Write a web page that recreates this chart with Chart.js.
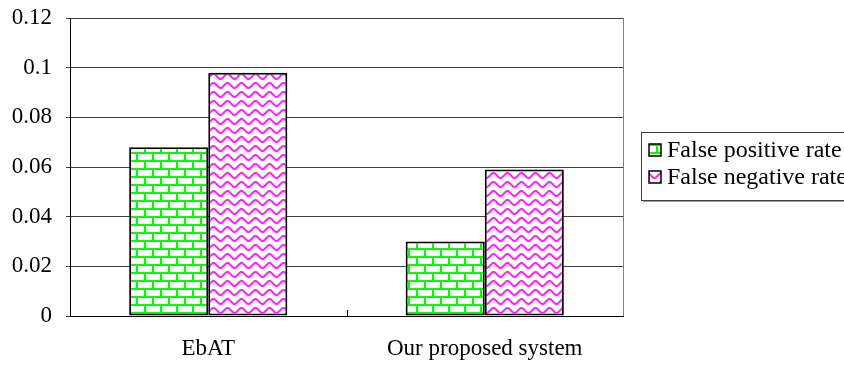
<!DOCTYPE html>
<html>
<head>
<meta charset="utf-8">
<script src="https://cdn.jsdelivr.net/npm/chart.js@4/dist/chart.umd.min.js"></script>
<style>
  html, body { margin: 0; padding: 0; background: #fff; }
  #wrap { width: 844px; height: 365px; position: relative; }
</style>
</head>
<body>
<div id="wrap"><canvas id="c" width="844" height="365"></canvas></div>
<script>
// Detection error rates of the two systems
const categories = ['EbAT', 'Our proposed system'];
const falsePositive = [0.068, 0.030];
const falseNegative = [0.098, 0.059];
const seriesNames = ['False positive rate', 'False negative rate'];
const yTicks = [0, 0.02, 0.04, 0.06, 0.08, 0.1, 0.12];

const FONT = "'Liberation Serif', 'Times New Roman', serif";

// Green brick hatch
function brickPattern() {
  const t = document.createElement('canvas');
  t.width = 16; t.height = 16;
  const g = t.getContext('2d');
  g.fillStyle = '#ffffff';
  g.fillRect(0, 0, 16, 16);
  g.fillStyle = '#00ff00';
  g.fillRect(0, 0, 16, 2);
  g.fillRect(0, 8, 16, 2);
  g.fillRect(0, 0, 2, 8);
  g.fillRect(8, 8, 2, 8);
  return g.createPattern(t, 'repeat');
}

// Magenta wave hatch
function wavePattern() {
  const w = 14, h = 9;
  const t = document.createElement('canvas');
  t.width = w; t.height = h;
  const g = t.getContext('2d');
  g.fillStyle = '#ffffff';
  g.fillRect(0, 0, w, h);
  g.strokeStyle = '#ff22ff';
  g.lineWidth = 2;
  for (const off of [-h, 0, h]) {
    g.beginPath();
    for (let x = -1; x <= w + 1; x += 0.5) {
      const y = off + 4.5 - 2.5 * Math.sin((x / w) * Math.PI * 2);
      if (x === -1) g.moveTo(x, y); else g.lineTo(x, y);
    }
    g.stroke();
  }
  return g.createPattern(t, 'repeat');
}

const fills = [brickPattern(), wavePattern()];

// Plot frame, inward category ticks and the boxed legend
const framePlugin = {
  id: 'frame',
  afterDatasetsDraw(chart) {
    const { ctx, chartArea: a, scales } = chart;
    ctx.save();
    ctx.strokeStyle = '#808080';
    ctx.lineWidth = 1;
    ctx.beginPath();
    ctx.moveTo(a.right + 0.5, a.top);
    ctx.lineTo(a.right + 0.5, a.bottom);
    ctx.stroke();
    // tick between categories
    const xs = scales.x;
    ctx.strokeStyle = '#000';
    for (let i = 1; i < categories.length; i++) {
      const px = Math.round((xs.getPixelForValue(i - 1) + xs.getPixelForValue(i)) / 2) + 0.5;
      ctx.beginPath();
      ctx.moveTo(px, a.bottom);
      ctx.lineTo(px, a.bottom - 6);
      ctx.stroke();
    }
    ctx.restore();
  },
  afterDraw(chart) {
    const { ctx } = chart;
    const lx = 641, ly = 132, lh = 68;
    ctx.save();
    ctx.fillStyle = '#a0a0a0';
    ctx.fillRect(lx + 2, ly + lh, 300, 2);
    ctx.fillStyle = '#fff';
    ctx.fillRect(lx, ly, 300, lh);
    ctx.strokeStyle = '#404040';
    ctx.lineWidth = 1;
    ctx.strokeRect(lx + 0.5, ly + 0.5, 300, lh);
    ctx.font = '24px ' + FONT;
    ctx.textBaseline = 'middle';
    ctx.fillStyle = '#000';
    chart.data.datasets.forEach((ds, i) => {
      const cy = 150 + i * 27;
      ctx.fillStyle = ds.backgroundColor;
      ctx.fillRect(649, cy - 6, 12, 12);
      ctx.strokeStyle = '#000';
      ctx.lineWidth = 1.5;
      ctx.strokeRect(649, cy - 6, 12, 12);
      ctx.fillStyle = '#000';
      ctx.fillText(ds.label, 667, cy + 1);
    });
    ctx.restore();
  }
};

new Chart(document.getElementById('c'), {
  type: 'bar',
  data: {
    labels: categories,
    datasets: [
      { label: seriesNames[0], data: falsePositive, backgroundColor: fills[0],
        borderColor: '#000', borderWidth: 2, borderSkipped: false },
      { label: seriesNames[1], data: falseNegative, backgroundColor: fills[1],
        borderColor: '#000', borderWidth: 2, borderSkipped: false }
    ]
  },
  options: {
    responsive: false,
    animation: false,
    devicePixelRatio: 1,
    layout: { padding: { top: 18, right: 221, left: 0, bottom: 0 } },
    datasets: { bar: { barPercentage: 1.0, categoryPercentage: 0.572 } },
    plugins: { legend: { display: false }, tooltip: { enabled: false } },
    scales: {
      x: {
        grid: { display: false, drawTicks: false },
        border: { display: true, color: '#000', width: 1 },
        ticks: { color: '#000', font: { family: FONT, size: 23 }, padding: 19, maxRotation: 0 },
        afterFit(s) { s.height = 49; s.paddingLeft = 0; s.paddingRight = 0; }
      },
      y: {
        min: 0, max: 0.12,
        afterBuildTicks(s) { s.ticks = yTicks.map(v => ({ value: v })); },
        grid: { color: '#404040', lineWidth: 1, tickLength: 4 },
        border: { display: true, color: '#000', width: 1 },
        ticks: { color: '#000', font: { family: FONT, size: 23 }, padding: 14,
                 callback: v => String(v) },
        afterFit(s) { s.width = 70; s.paddingTop = 0; s.paddingBottom = 0; }
      }
    }
  },
  plugins: [framePlugin]
});
</script>
</body>
</html>
